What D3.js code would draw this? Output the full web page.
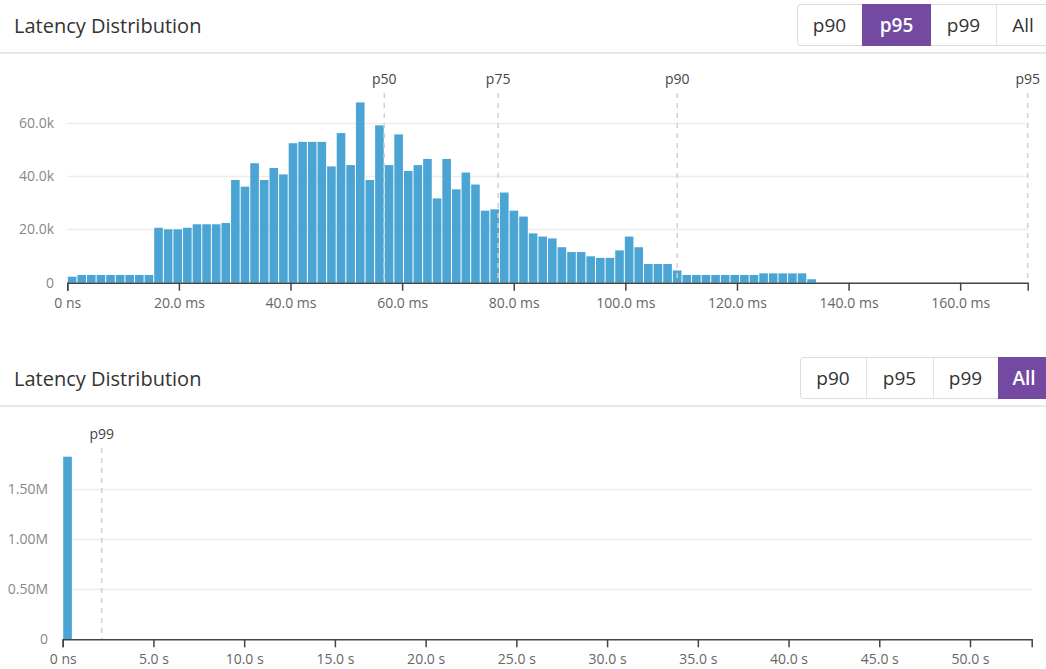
<!DOCTYPE html>
<html>
<head>
<meta charset="utf-8">
<script src="https://cdn.jsdelivr.net/npm/d3@7"></script>
<style>
  body { margin: 0; background: #fff; }
  svg { display: block; font-family: "Open Sans", "Noto Sans", sans-serif; }
</style>
</head>
<body>
<svg id="chart" width="1046" height="669"></svg>
<script>
// buttons shown in both headers
const buttonLabels = ["p90", "p95", "p99", "All"];

// top histogram: 100 bins spread over [0, p95] ms, counts
const topMaxMs = 172.1;
const topBinCount = 100;
const topCounts = [
    2250, 2900, 2900, 2900, 2900, 2900, 2900, 2900, 2900,
    20600, 20000, 20000, 20600, 21900, 21900, 21900, 22400,
    38500, 36000, 44800, 38500, 43000, 40600,
    52300, 52800, 52800, 52800, 43600, 56100, 44100,
    67600, 38500, 59000, 44100, 55600, 41900, 44100, 46400, 31600, 46400,
    35000, 41300, 36800, 27000, 27500, 33800, 27000, 24800, 18500, 17300,
    16600, 13300, 11500, 11500, 9900, 9300, 9300, 12100, 17300, 13300,
    7000, 7000, 7000, 4600,
    2900, 2900, 2900, 2900, 2900, 2900, 2900, 2900,
    3500, 3500, 3500, 3500, 3500, 1300
];
const topYTicks = [0, 20000, 40000, 60000];
const topXTicks = [0, 20, 40, 60, 80, 100, 120, 140, 160];
const topPercentiles = [
    {name: "p50", value: 56.8},
    {name: "p75", value: 77.2},
    {name: "p90", value: 109.3},
    {name: "p95", value: 172.1}
];

// bottom histogram: 100 bins over [0, max] seconds
const bottomMaxS = 53.4;
const bottomBinCount = 100;
const bottomCounts = [1826000];
const bottomYTicks = [0, 500000, 1000000, 1500000];
const bottomXTicks = [0, 5, 10, 15, 20, 25, 30, 35, 40, 45, 50];
const bottomPercentiles = [
    {name: "p99", value: 2.15}
];

const svg = d3.select("#chart");
const barColor = "#4aa5d4";
const purple = "#7449a2";

function drawHeader(top, edges, active) {
    const g = svg.append("g").attr("transform", `translate(0,${top})`);
    g.append("text")
        .attr("x", 14)
        .attr("y", 32.5)
        .attr("fill", "#333")
        .style("font-size", "20px")
        .text("Latency Distribution");
    g.append("rect")
        .attr("x", 0).attr("y", 52)
        .attr("width", 1046).attr("height", 2)
        .attr("fill", "#e8e8e8");

    const bx = g.append("g");
    bx.append("rect")
        .attr("x", edges[0] + 0.5).attr("y", 4.5)
        .attr("width", 1100 - edges[0]).attr("height", 41)
        .attr("rx", 3)
        .attr("fill", "#fff")
        .attr("stroke", "#dcdcdc");
    buttonLabels.forEach((lbl, i) => {
        const x0 = edges[i], x1 = edges[i + 1];
        if (i === active) {
            bx.append("rect")
                .attr("x", x0).attr("y", 4)
                .attr("width", x1 - x0).attr("height", 42)
                .attr("fill", purple);
        } else if (i > 0 && i !== active + 1) {
            bx.append("line")
                .attr("x1", x0 + 0.5).attr("x2", x0 + 0.5)
                .attr("y1", 5).attr("y2", 45)
                .attr("stroke", "#e2e2e2");
        }
        bx.append("text")
            .attr("x", (x0 + x1) / 2)
            .attr("y", 32)
            .attr("text-anchor", "middle")
            .attr("fill", i === active ? "#fff" : "#333")
            .style("font-size", "19px")
            .style("font-weight", i === active ? 600 : 400)
            .text(lbl);
    });
}

function drawHistogram(opt) {
    const g = svg.append("g");
    const x = d3.scaleLinear().domain([0, opt.xMax]).range(opt.xRange);
    const y = d3.scaleLinear().domain(opt.yDomain).range(opt.yRange);

    // horizontal grid
    g.append("g")
        .selectAll("line")
        .data(opt.yTicks.slice(1))
        .enter().append("line")
        .attr("x1", opt.xRange[0]).attr("x2", opt.xRange[1])
        .attr("y1", d => Math.round(y(d)) + 0.5)
        .attr("y2", d => Math.round(y(d)) + 0.5)
        .attr("stroke", "#ececec")
        .attr("stroke-width", 1.5);

    // bars
    const binW = opt.xMax / opt.binCount;
    g.append("g")
        .selectAll("rect")
        .data(opt.counts)
        .enter().append("rect")
        .attr("x", (d, i) => x(i * binW) + 0.5)
        .attr("width", (d, i) => x((i + 1) * binW) - x(i * binW) - 1)
        .attr("y", d => y(d))
        .attr("height", d => y(0) - y(d))
        .attr("fill", barColor);

    // percentile markers
    const pg = g.append("g");
    pg.selectAll("line")
        .data(opt.percentiles)
        .enter().append("line")
        .attr("x1", d => x(d.value)).attr("x2", d => x(d.value))
        .attr("y1", opt.markerTop).attr("y2", y(0))
        .attr("stroke", "#d0d0d0")
        .attr("stroke-width", 1.5)
        .attr("stroke-dasharray", "5,5");
    pg.selectAll("text")
        .data(opt.percentiles)
        .enter().append("text")
        .attr("x", d => x(d.value))
        .attr("y", opt.markerTop - 9)
        .attr("text-anchor", "middle")
        .attr("fill", "#444")
        .style("font-size", "14px")
        .text(d => d.name);

    // y axis labels only
    const yAxis = g.append("g")
        .attr("transform", `translate(${opt.yLabelX},0)`)
        .call(d3.axisLeft(y).tickValues(opt.yTicks).tickSize(0).tickPadding(0).tickFormat(opt.yFormat));
    yAxis.select(".domain").remove();
    yAxis.selectAll("text")
        .attr("fill", "#888")
        .style("font-size", "14px")
        .style("font-family", "Open Sans");

    // x axis
    const xAxis = g.append("g")
        .attr("transform", `translate(0,${y(0)})`)
        .call(d3.axisBottom(x).tickValues(opt.xTicks).tickSize(8).tickSizeOuter(8).tickPadding(7).tickFormat(opt.xFormat));
    xAxis.select(".domain").attr("stroke", "#444").attr("stroke-width", 1.5);
    xAxis.selectAll(".tick line").attr("stroke", "#444").attr("stroke-width", 1.5);
    xAxis.selectAll("text")
        .attr("fill", "#666")
        .style("font-size", "14px")
        .style("font-family", "Open Sans");
}

drawHeader(0, [797, 862, 931, 996, 1050], 1);
drawHistogram({
    xMax: topMaxMs, binCount: topBinCount, counts: topCounts,
    xRange: [67.3, 1027.7], yDomain: [0, 70000], yRange: [282.7, 96],
    yTicks: topYTicks, xTicks: topXTicks, percentiles: topPercentiles,
    markerTop: 93, yLabelX: 54,
    yFormat: d => d === 0 ? "0" : (d / 1000).toFixed(1) + "k",
    xFormat: d => d === 0 ? "0 ns" : d.toFixed(1) + " ms"
});

drawHeader(353, [800, 866, 933, 998, 1050], 3);
drawHistogram({
    xMax: bottomMaxS, binCount: bottomBinCount, counts: bottomCounts,
    xRange: [62.7, 1031.7], yDomain: [0, 1900000], yRange: [639.3, 449.3],
    yTicks: bottomYTicks, xTicks: bottomXTicks, percentiles: bottomPercentiles,
    markerTop: 448, yLabelX: 48,
    yFormat: d => d === 0 ? "0" : (d / 1e6).toFixed(2) + "M",
    xFormat: d => d === 0 ? "0 ns" : d.toFixed(1) + " s"
});
</script>
</body>
</html>
